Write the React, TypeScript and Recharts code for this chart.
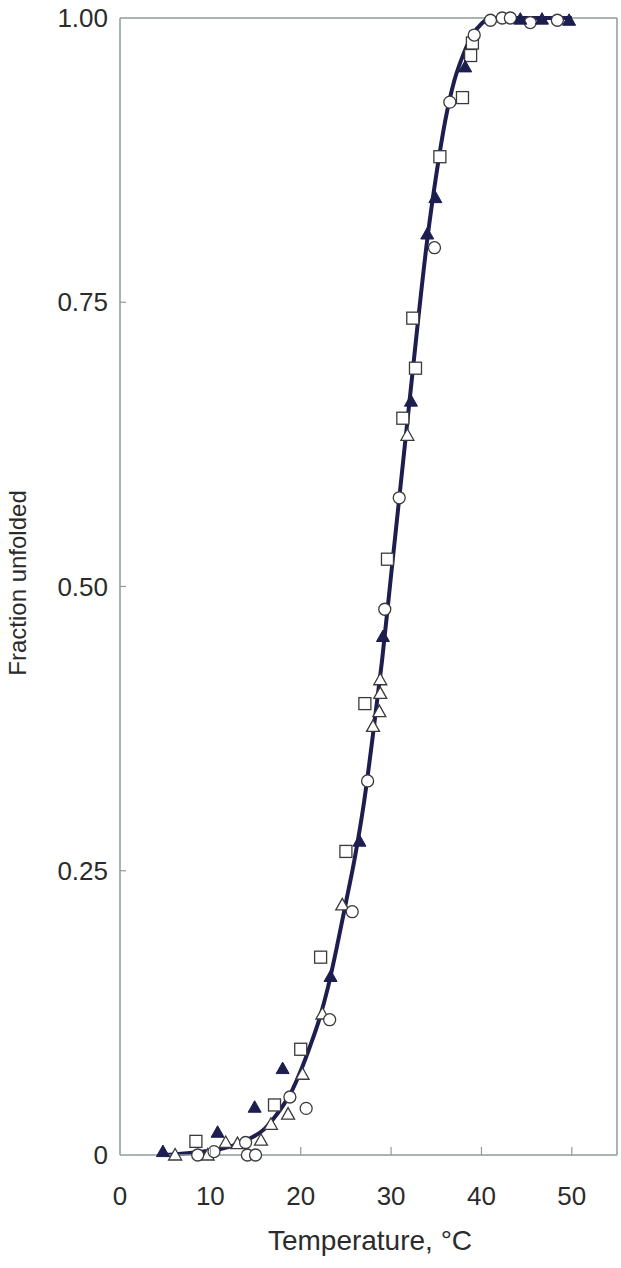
import React from "react"
import { ComposedChart, Line, Scatter, XAxis, YAxis, ReferenceLine } from "recharts"

type Pt = { t: number; f: number }
const pts = (rows: number[][]): Pt[] => rows.map(([t, f]) => ({ t, f }))

// fitted curve
const curve = pts([
  [5, 0], [8, 0.002], [11, 0.005], [14, 0.013], [16, 0.023], [17, 0.032], [18, 0.043],
  [19, 0.056], [20, 0.074], [21, 0.095], [22, 0.118], [23, 0.147], [24, 0.183],
  [25, 0.222], [26, 0.262], [27, 0.31], [28, 0.37], [29, 0.435], [30, 0.51],
  [31, 0.585], [32, 0.66], [33, 0.735], [34, 0.805], [35, 0.862], [36, 0.91],
  [37, 0.945], [38, 0.968], [39, 0.985], [40, 0.995], [41, 1.0], [50, 1.0],
])

const openCircles = pts([
  [8.6, 0], [10.4, 0.003], [13.9, 0.011], [14.1, 0], [15.0, 0], [18.8, 0.051],
  [20.6, 0.041], [23.2, 0.119], [25.7, 0.214], [27.4, 0.329], [29.3, 0.48],
  [30.9, 0.578], [34.8, 0.798], [36.5, 0.926], [39.2, 0.985], [41.0, 0.998],
  [42.3, 1.0], [43.2, 1.0], [45.4, 0.996], [48.4, 0.998],
])

const openSquares = pts([
  [8.4, 0.012], [17.1, 0.044], [20.0, 0.093], [22.2, 0.174], [25.0, 0.267],
  [27.1, 0.397], [29.6, 0.524], [31.3, 0.648], [32.7, 0.692], [32.4, 0.736],
  [35.4, 0.878], [37.9, 0.93], [38.8, 0.967], [39.0, 0.978],
])

const openTriangles = pts([
  [6.1, 0], [9.7, 0], [11.7, 0.011], [13.0, 0.01], [15.6, 0.013], [16.7, 0.027],
  [18.6, 0.036], [20.2, 0.071], [22.4, 0.124], [24.6, 0.22], [28.0, 0.377],
  [28.7, 0.39], [28.8, 0.406], [28.8, 0.418], [31.8, 0.633],
])

const filledTriangles = pts([
  [4.75, 0.003], [10.8, 0.02], [14.9, 0.042], [18.0, 0.076], [23.3, 0.157],
  [26.5, 0.276], [29.1, 0.456], [32.2, 0.663], [34.0, 0.81], [34.9, 0.842],
  [38.2, 0.957], [44.3, 0.999], [46.7, 0.999], [49.7, 0.998],
])

const xTicks = [0, 10, 20, 30, 40, 50]
const yTicks = [0, 0.25, 0.5, 0.75, 1]
const yLabels: Record<number, string> = { 0: "0", 0.25: "0.25", 0.5: "0.50", 0.75: "0.75", 1: "1.00" }

const font = '"Liberation Sans", Arial, sans-serif'
const ink = "#2b2b2b"
const frame = "#8e9c94"
const navy = "#1d1d4f"
const mark = "#3a3a3a"

const XTick = ({ x, y, payload }: any) => (
  <g>
    {payload.value > 0 && <line x1={x} x2={x} y1={y} y2={y - 8} stroke={frame} strokeWidth={1.2} />}
    <text x={x} y={y + 50} textAnchor="middle" fontSize={26} fontFamily={font} fill={ink}>
      {payload.value}
    </text>
  </g>
)

const YTick = ({ x, y, payload }: any) => (
  <g>
    {payload.value > 0 && payload.value < 1 && <line x1={x} x2={x + 6} y1={y} y2={y} stroke={frame} strokeWidth={1.2} />}
    <text x={x - 12} y={y + 9} textAnchor="end" fontSize={26} fontFamily={font} fill={ink}>
      {yLabels[payload.value]}
    </text>
  </g>
)

const circleShape = (p: any) => (
  <circle cx={p.cx} cy={p.cy} r={6} fill="#fff" stroke={mark} strokeWidth={1.3} />
)
const squareShape = (p: any) => (
  <rect x={p.cx - 6} y={p.cy - 6} width={12} height={12} fill="#fff" stroke={mark} strokeWidth={1.3} />
)
const triPoints = (cx: number, cy: number) => `${cx},${cy - 6.5} ${cx - 6.5},${cy + 5} ${cx + 6.5},${cy + 5}`
const openTriShape = (p: any) => (
  <polygon points={triPoints(p.cx, p.cy)} fill="#fff" stroke={mark} strokeWidth={1.3} />
)
const filledTriShape = (p: any) => (
  <polygon points={triPoints(p.cx, p.cy)} fill={navy} stroke={navy} strokeWidth={1} />
)

export default function App() {
  return (
    <div style={{ position: "absolute", left: 0, top: 0, background: "#fff" }}>
      <ComposedChart width={621} height={1268} margin={{ top: 18, right: 4, left: 0, bottom: 0 }}>
        <XAxis
          type="number"
          dataKey="t"
          domain={[0, 55]}
          ticks={xTicks}
          height={113}
          tickSize={0}
          tickMargin={0}
          tick={(p: any) => <XTick {...p} />}
          axisLine={{ stroke: frame, strokeWidth: 1.5 }}
          label={{
            content: () => (
              <text x={370} y={1250} textAnchor="middle" fontSize={28} fontFamily={font} fill={ink}>
                Temperature, °C
              </text>
            ),
          }}
        />
        <YAxis
          type="number"
          dataKey="f"
          domain={[0, 1]}
          ticks={yTicks}
          width={120}
          tickSize={0}
          tickMargin={0}
          tick={(p: any) => <YTick {...p} />}
          axisLine={{ stroke: frame, strokeWidth: 1.5 }}
          label={{
            content: () => (
              <text x={26} y={583} transform="rotate(-90 26 583)" textAnchor="middle" fontSize={24} fontFamily={font} fill={ink}>
                Fraction unfolded
              </text>
            ),
          }}
        />
        <ReferenceLine y={1} stroke={frame} strokeWidth={1.5} />
        <ReferenceLine x={55} stroke={frame} strokeWidth={1.5} />
        <Line data={curve} dataKey="f" type="monotone" stroke={navy} strokeWidth={4} dot={false} isAnimationActive={false} />
        <Scatter data={openTriangles} shape={openTriShape} isAnimationActive={false} />
        <Scatter data={openSquares} shape={squareShape} isAnimationActive={false} />
        <Scatter data={openCircles} shape={circleShape} isAnimationActive={false} />
        <Scatter data={filledTriangles} shape={filledTriShape} isAnimationActive={false} />
      </ComposedChart>
    </div>
  )
}
